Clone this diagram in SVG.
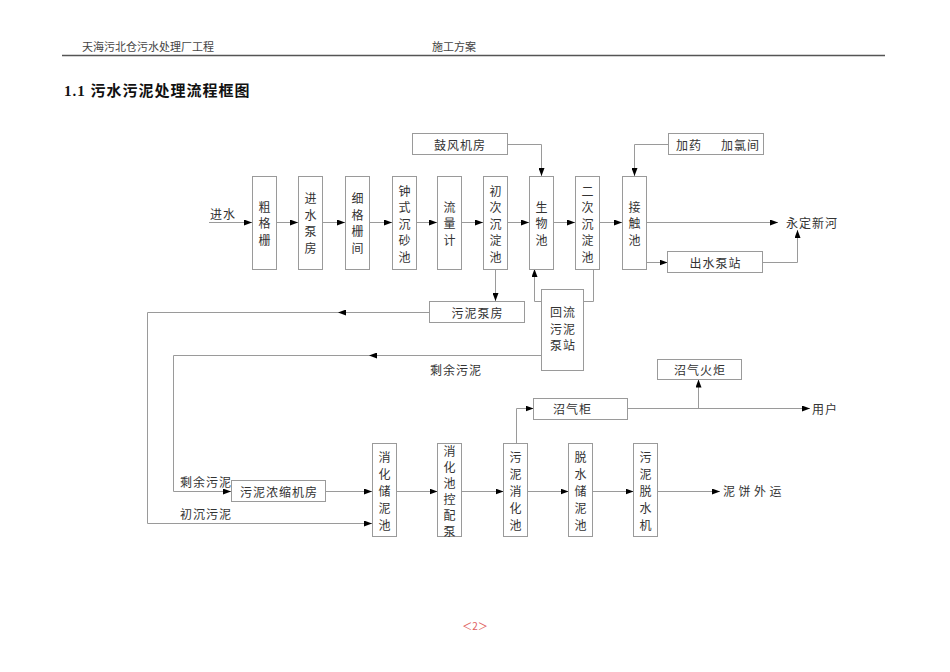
<svg xmlns="http://www.w3.org/2000/svg" width="950" height="672" viewBox="0 0 950 672">
<style>
.box{fill:#fff;stroke:#9a9a9a;stroke-width:1}
.ln{fill:none;stroke:#9a9a9a;stroke-width:1}
.ar{marker-end:url(#ah)}
text{font-family:"Noto Sans CJK SC",sans-serif;font-size:12px;fill:#333;dominant-baseline:central}
.c{text-anchor:middle}
.h{font-family:"Liberation Serif","Noto Sans CJK SC",serif;font-size:11px;fill:#444}
.title{font-family:"Liberation Serif","Noto Sans CJK SC",serif;font-size:15px;font-weight:bold;fill:#111;letter-spacing:1px}
.sp{letter-spacing:1px}
</style>
<defs>
<marker id="ah" markerUnits="userSpaceOnUse" markerWidth="8" markerHeight="6" refX="8" refY="3" orient="auto">
<path d="M0,0 L8,3 L0,6 z" fill="#000"/>
</marker>
</defs>
<rect width="950" height="672" fill="#fff"/>
<g id="header">
<text class="h" x="82" y="47">天海污北仓污水处理厂工程</text>
<text class="h" x="432" y="47">施工方案</text>
<line x1="62" y1="55.5" x2="885" y2="55.5" stroke="#555" stroke-width="1.3"/>
<text class="title" x="64" y="91">1.1 污水污泥处理流程框图</text>
</g>
<g id="connectors">
<path class="ln ar" d="M209,222.5 H252"/>
<path class="ln ar" d="M277,222.5 H298"/>
<path class="ln ar" d="M323,222.5 H345"/>
<path class="ln ar" d="M369,222.5 H392"/>
<path class="ln ar" d="M416,222.5 H437"/>
<path class="ln ar" d="M461,222.5 H483"/>
<path class="ln ar" d="M507,222.5 H529"/>
<path class="ln ar" d="M553,222.5 H575"/>
<path class="ln ar" d="M599,222.5 H622"/>
<path class="ln ar" d="M646,222.5 H778"/>
<path class="ln ar" d="M507.5,144.5 H541.5 V176"/>
<path class="ln ar" d="M668.5,144.5 H634.5 V176"/>
<path class="ln ar" d="M646,262.5 H667.5"/>
<path class="ln ar" d="M762.5,262.5 H797.5 V230"/>
<path class="ln ar" d="M593.5,269 V301.5 H534.5 V269"/>
<path class="ln ar" d="M495.5,269 V301"/>
<path class="ln ar" d="M429.5,312.5 H338"/>
<path class="ln ar" d="M338,312.5 H147.5 V523.5 H372"/>
<path class="ln ar" d="M541.5,355.5 H369"/>
<path class="ln ar" d="M369,355.5 H173.5 V491.5 H231"/>
<path class="ln ar" d="M325.5,491.5 H372"/>
<path class="ln ar" d="M396,491.5 H437.5"/>
<path class="ln ar" d="M461.5,491.5 H503.5"/>
<path class="ln ar" d="M527.5,491.5 H568.5"/>
<path class="ln ar" d="M592.5,491.5 H633.5"/>
<path class="ln ar" d="M657.5,491.5 H720"/>
<path class="ln ar" d="M516.5,443.5 V408.5 H533.5"/>
<path class="ln ar" d="M627.5,408.5 H810"/>
<path class="ln ar" d="M698.5,408.5 V379.5"/>
</g>
<g id="labels">
<text class="sp" x="210" y="213">进水</text>
<text class="sp" x="786" y="222">永定新河</text>
<text class="sp" x="430" y="369">剩余污泥</text>
<text class="sp" x="180" y="481">剩余污泥</text>
<text class="sp" x="180" y="513">初沉污泥</text>
<text class="sp" x="812" y="408">用户</text>
<text x="723" y="490" style="letter-spacing:3.5px">泥饼外运</text>
</g>
<g id="n-cgs"><rect class="box" x="252.5" y="176.5" width="24" height="93"/>
<text class="c" x="264.5" y="206">粗</text><text class="c" x="264.5" y="222.5">格</text><text class="c" x="264.5" y="239">栅</text></g>
<g id="n-jsbf"><rect class="box" x="298.5" y="176.5" width="24" height="93"/>
<text class="c" x="310.5" y="197.75">进</text><text class="c" x="310.5" y="214.25">水</text><text class="c" x="310.5" y="230.75">泵</text><text class="c" x="310.5" y="247.25">房</text></g>
<g id="n-xgsj"><rect class="box" x="345.5" y="176.5" width="24" height="93"/>
<text class="c" x="357.5" y="197.75">细</text><text class="c" x="357.5" y="214.25">格</text><text class="c" x="357.5" y="230.75">栅</text><text class="c" x="357.5" y="247.25">间</text></g>
<g id="n-zscsc"><rect class="box" x="392.5" y="176.5" width="24" height="93"/>
<text class="c" x="404.5" y="190">钟</text><text class="c" x="404.5" y="206.5">式</text><text class="c" x="404.5" y="223">沉</text><text class="c" x="404.5" y="239.5">砂</text><text class="c" x="404.5" y="256">池</text></g>
<g id="n-llj"><rect class="box" x="437.5" y="176.5" width="24" height="93"/>
<text class="c" x="449.5" y="206">流</text><text class="c" x="449.5" y="222.5">量</text><text class="c" x="449.5" y="239">计</text></g>
<g id="n-ccdc"><rect class="box" x="483.5" y="176.5" width="24" height="93"/>
<text class="c" x="495.5" y="190">初</text><text class="c" x="495.5" y="206.5">次</text><text class="c" x="495.5" y="223">沉</text><text class="c" x="495.5" y="239.5">淀</text><text class="c" x="495.5" y="256">池</text></g>
<g id="n-swc"><rect class="box" x="529.5" y="176.5" width="24" height="93"/>
<text class="c" x="541.5" y="206">生</text><text class="c" x="541.5" y="222.5">物</text><text class="c" x="541.5" y="239">池</text></g>
<g id="n-ecdc"><rect class="box" x="575.5" y="176.5" width="24" height="93"/>
<text class="c" x="587.5" y="190">二</text><text class="c" x="587.5" y="206.5">次</text><text class="c" x="587.5" y="223">沉</text><text class="c" x="587.5" y="239.5">淀</text><text class="c" x="587.5" y="256">池</text></g>
<g id="n-jcc"><rect class="box" x="622.5" y="176.5" width="24" height="93"/>
<text class="c" x="634.5" y="206">接</text><text class="c" x="634.5" y="222.5">触</text><text class="c" x="634.5" y="239">池</text></g>
<g id="n-gfjf"><rect class="box" x="412.5" y="133.5" width="95" height="21"/>
<text class="c sp" x="460" y="144">鼓风机房</text></g>
<g id="n-jy"><rect class="box" x="668.5" y="133.5" width="95" height="21"/>
<text x="676" y="144" class="sp">加药<tspan x="721">加氯间</tspan></text></g>
<g id="n-csbz"><rect class="box" x="667.5" y="251.5" width="95" height="21"/>
<text class="c sp" x="715.5" y="262">出水泵站</text></g>
<g id="n-wnbf"><rect class="box" x="429.5" y="301.5" width="95" height="21"/>
<text class="c sp" x="477.5" y="312">污泥泵房</text></g>
<g id="n-hlwnbz"><rect class="box" x="541.5" y="289.5" width="42" height="81"/>
<text class="c sp" x="563" y="311.5">回流</text><text class="c sp" x="563" y="328">污泥</text><text class="c sp" x="563" y="344.5">泵站</text></g>
<g id="n-zqhj"><rect class="box" x="657.5" y="359.5" width="84" height="20"/>
<text class="c sp" x="700" y="369.5">沼气火炬</text></g>
<g id="n-zqg"><rect class="box" x="533.5" y="398.5" width="94" height="21"/>
<text class="sp" x="553" y="408.5">沼气柜</text></g>
<g id="n-wnnsjf"><rect class="box" x="231.5" y="480.5" width="94" height="21"/>
<text class="c sp" x="279" y="491">污泥浓缩机房</text></g>
<g id="n-xhcnc"><rect class="box" x="372.5" y="443.5" width="24" height="93"/>
<text class="c" x="384.5" y="456">消</text><text class="c" x="384.5" y="473">化</text><text class="c" x="384.5" y="490">储</text><text class="c" x="384.5" y="507">泥</text><text class="c" x="384.5" y="524">池</text></g>
<g id="n-xhckpb"><rect class="box" x="437.5" y="443.5" width="24" height="93"/>
<text class="c" x="449.5" y="450">消</text><text class="c" x="449.5" y="466">化</text><text class="c" x="449.5" y="482">池</text><text class="c" x="449.5" y="498">控</text><text class="c" x="449.5" y="514">配</text><text class="c" x="449.5" y="530">泵</text></g>
<g id="n-wnxhc"><rect class="box" x="503.5" y="443.5" width="24" height="93"/>
<text class="c" x="515.5" y="456">污</text><text class="c" x="515.5" y="473">泥</text><text class="c" x="515.5" y="490">消</text><text class="c" x="515.5" y="507">化</text><text class="c" x="515.5" y="524">池</text></g>
<g id="n-tscnc"><rect class="box" x="568.5" y="443.5" width="24" height="93"/>
<text class="c" x="580.5" y="456">脱</text><text class="c" x="580.5" y="473">水</text><text class="c" x="580.5" y="490">储</text><text class="c" x="580.5" y="507">泥</text><text class="c" x="580.5" y="524">池</text></g>
<g id="n-wntsj"><rect class="box" x="633.5" y="443.5" width="24" height="93"/>
<text class="c" x="645.5" y="456">污</text><text class="c" x="645.5" y="473">泥</text><text class="c" x="645.5" y="490">脱</text><text class="c" x="645.5" y="507">水</text><text class="c" x="645.5" y="524">机</text></g>
<g id="footer">
<text class="c" x="475" y="625" style="font-size:10px;fill:#e06060">＜2＞</text>
</g>
</svg>
